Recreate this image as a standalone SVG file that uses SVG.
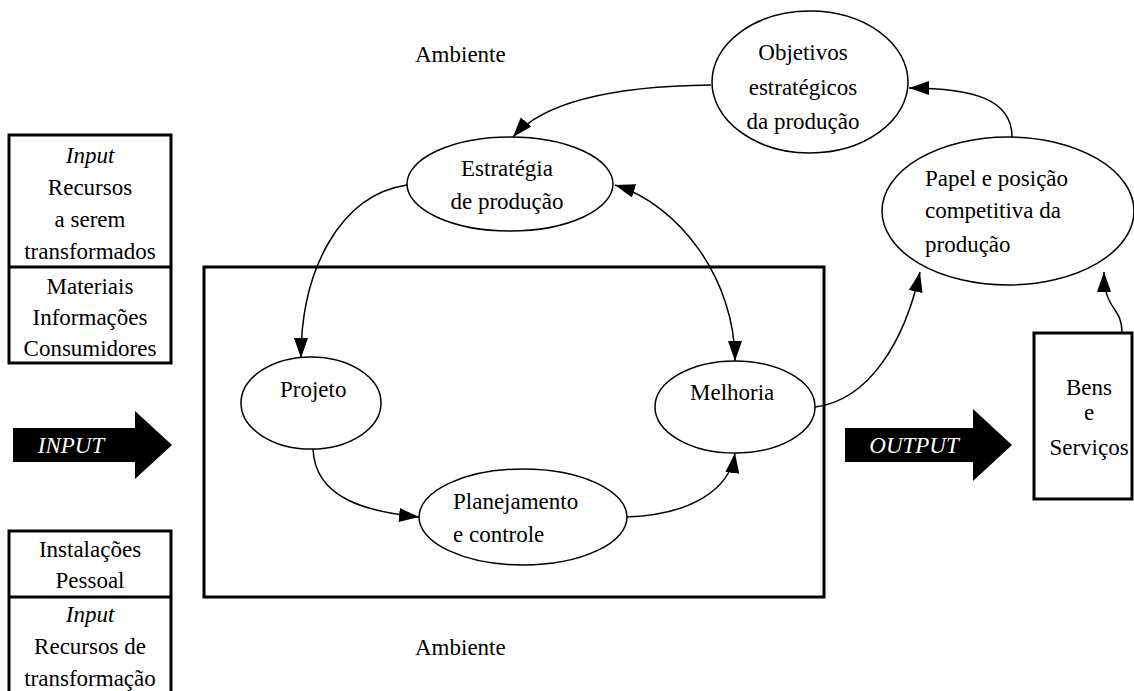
<svg xmlns="http://www.w3.org/2000/svg" width="1134" height="691" viewBox="0 0 1134 691" font-family="'Liberation Serif', 'Times New Roman', 'DejaVu Serif', serif" font-size="23">
  <style>
    text { fill: #000; }
    .c { text-anchor: middle; }
    .i { font-style: italic; }
    .w { fill: #fff; }
    .box { fill: none; stroke: #000; stroke-width: 3; }
    .node { fill: #fff; stroke: #000; stroke-width: 1.5; }
    .edge { fill: none; stroke: #000; stroke-width: 1.5; }
  </style>
  <defs>
    <marker id="arrow" viewBox="0 0 20 14" refX="20" refY="7" markerWidth="20" markerHeight="14" markerUnits="userSpaceOnUse" orient="auto-start-reverse">
      <path d="M0,0 L20,7 L0,14 Z" fill="#000"/>
    </marker>
  </defs>

  <rect width="1134" height="691" fill="#fff"/>

  <!-- environment labels -->
  <text x="415" y="62">Ambiente</text>
  <text x="415" y="655">Ambiente</text>

  <!-- operation boundary -->
  <rect class="box" x="204" y="267" width="620" height="330"/>

  <!-- input resources: to be transformed -->
  <g id="input-transformed">
    <rect class="box" x="9" y="135" width="162" height="228"/>
    <line x1="9" y1="267" x2="171" y2="267" stroke="#000" stroke-width="3"/>
    <text class="c i" x="90" y="163">Input</text>
    <text class="c" x="90" y="195">Recursos</text>
    <text class="c" x="90" y="227">a serem</text>
    <text class="c" x="90" y="259">transformados</text>
    <text class="c" x="90" y="294">Materiais</text>
    <text class="c" x="90" y="325">Informações</text>
    <text class="c" x="90" y="356">Consumidores</text>
  </g>

  <!-- input resources: transforming -->
  <g id="input-transforming">
    <rect class="box" x="9" y="531" width="162" height="170"/>
    <line x1="9" y1="597" x2="171" y2="597" stroke="#000" stroke-width="3"/>
    <text class="c" x="90" y="557">Instalações</text>
    <text class="c" x="90" y="588">Pessoal</text>
    <text class="c i" x="90" y="622">Input</text>
    <text class="c" x="90" y="654">Recursos de</text>
    <text class="c" x="90" y="686">transformação</text>
  </g>

  <!-- block arrows -->
  <g id="input-arrow">
    <path d="M13,428 H135 V411 L172,445 L135,479 V462 H13 Z" fill="#000"/>
    <text class="c i w" x="71" y="453">INPUT</text>
  </g>
  <g id="output-arrow">
    <path d="M845,428 H973 V409 L1012,445 L973,481 V462 H845 Z" fill="#000"/>
    <text class="c i w" x="914" y="453">OUTPUT</text>
  </g>

  <!-- goods and services -->
  <g id="bens">
    <rect class="box" x="1034" y="333" width="98" height="166"/>
    <text class="c" x="1089" y="395">Bens</text>
    <text class="c" x="1089" y="420">e</text>
    <text class="c" x="1089" y="455">Serviços</text>
  </g>

  <!-- connectors -->
  <g id="connectors">
    <path class="edge" d="M711,85 C620,86 545,100 513,137" marker-end="url(#arrow)"/>
    <path class="edge" d="M1012,137 C1012,100 975,88 909,88" marker-end="url(#arrow)"/>
    <path class="edge" d="M407,185 C340,195 301,270 301,358" marker-end="url(#arrow)"/>
    <path class="edge" d="M615,185 C680,205 735,280 735,361" marker-start="url(#arrow)" marker-end="url(#arrow)"/>
    <path class="edge" d="M313,449 C315,500 370,512 419,517" marker-end="url(#arrow)"/>
    <path class="edge" d="M626,517 C690,515 730,490 735,453" marker-end="url(#arrow)"/>
    <path class="edge" d="M815,407 C870,400 905,340 920,272" marker-end="url(#arrow)"/>
    <path class="edge" d="M1122,333 C1122,305 1104,312 1104,272" marker-end="url(#arrow)"/>
  </g>

  <!-- process nodes -->
  <g id="objetivos">
    <ellipse class="node" cx="810" cy="82" rx="98" ry="71"/>
    <text class="c" x="803" y="60">Objetivos</text>
    <text class="c" x="803" y="95">estratégicos</text>
    <text class="c" x="803" y="129">da produção</text>
  </g>
  <g id="estrategia">
    <ellipse class="node" cx="510" cy="184" rx="103" ry="47"/>
    <text class="c" x="507" y="176">Estratégia</text>
    <text class="c" x="507" y="209">de produção</text>
  </g>
  <g id="papel">
    <ellipse class="node" cx="1008" cy="211" rx="126" ry="74"/>
    <text x="925" y="186">Papel e posição</text>
    <text x="925" y="218">competitiva da</text>
    <text x="925" y="252">produção</text>
  </g>
  <g id="projeto">
    <ellipse class="node" cx="311" cy="403" rx="70" ry="46"/>
    <text x="280" y="397">Projeto</text>
  </g>
  <g id="melhoria">
    <ellipse class="node" cx="735" cy="407" rx="80" ry="46"/>
    <text x="690" y="400">Melhoria</text>
  </g>
  <g id="planejamento">
    <ellipse class="node" cx="523" cy="517" rx="104" ry="48"/>
    <text x="453" y="509">Planejamento</text>
    <text x="453" y="542">e controle</text>
  </g>
</svg>
